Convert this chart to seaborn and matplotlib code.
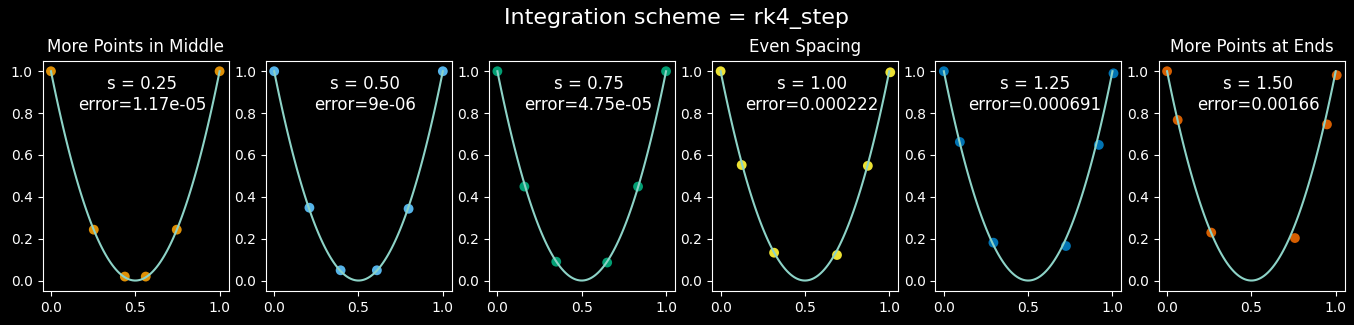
import matplotlib
matplotlib.use("Agg")
import matplotlib.pyplot as plt
import seaborn as sns
import pandas as pd

plt.style.use("dark_background")

# Exact curve knots (y = (2x-1)^2)
curve_x = [0.0, 0.1, 0.2, 0.3, 0.4, 0.5, 0.6, 0.7, 0.8, 0.9, 1.0]
curve_y = [1.0, 0.64, 0.36, 0.16, 0.04, 0.0, 0.04, 0.16, 0.36, 0.64, 1.0]

s_values = [0.25, 0.50, 0.75, 1.00, 1.25, 1.50]
errors = ["1.17e-05", "9e-06", "4.75e-05", "0.000222", "0.000691", "0.00166"]
titles = ["More Points in Middle", "", "", "Even Spacing", "", "More Points at Ends"]

pts_x = [
    [0.0, 0.254, 0.438, 0.562, 0.746, 1.0],
    [0.0, 0.209, 0.394, 0.609, 0.797, 1.0],
    [0.0, 0.160, 0.349, 0.651, 0.834, 1.0],
    [0.0, 0.125, 0.317, 0.690, 0.873, 1.006],
    [0.0, 0.095, 0.294, 0.724, 0.919, 1.006],
    [0.0, 0.063, 0.262, 0.758, 0.948, 1.006],
]
pts_y = [
    [1.0, 0.243, 0.019, 0.019, 0.243, 1.0],
    [1.0, 0.348, 0.049, 0.049, 0.343, 1.0],
    [1.0, 0.449, 0.090, 0.086, 0.449, 1.0],
    [1.0, 0.552, 0.133, 0.122, 0.548, 0.995],
    [1.0, 0.662, 0.181, 0.165, 0.648, 0.990],
    [1.0, 0.767, 0.229, 0.203, 0.746, 0.981],
]
point_colors = ["#DE8F05", "#56B4E9", "#029E73", "#ECE133", "#0173B2", "#D55E00"]
curve_color = "#8dd3c7"

fig, axes = plt.subplots(1, 6, figsize=(13.54, 3.25), dpi=100)
fig.subplots_adjust(left=0.0314, right=0.9931, top=0.813, bottom=0.1046, wspace=0.2)

curve_df = pd.DataFrame({"x": curve_x, "y": curve_y})

for i, ax in enumerate(axes):
    df = pd.DataFrame({"x": pts_x[i], "y": pts_y[i]})
    sns.scatterplot(data=df, x="x", y="y", ax=ax, color=point_colors[i],
                    s=50, edgecolor="none", zorder=1)
    sns.regplot(data=curve_df, x="x", y="y", ax=ax, order=2, ci=None,
                scatter=False, line_kws={"color": curve_color, "lw": 1.5, "zorder": 2})
    ax.set_xlabel("")
    ax.set_ylabel("")
    ax.set_xticks([0.0, 0.5, 1.0])
    ax.set_yticks([0.0, 0.2, 0.4, 0.6, 0.8, 1.0])
    ax.set_xlim(-0.05, 1.053)
    ax.set_ylim(-0.05, 1.05)
    ax.grid(False)
    if titles[i]:
        ax.set_title(titles[i], fontsize=12)
    ax.text(0.54, 0.89, f"s = {s_values[i]:.2f}\nerror={errors[i]}",
            ha="center", va="center", fontsize=12, color="white")

fig.suptitle("Integration scheme = rk4_step", fontsize=16, y=0.975)
fig.savefig("out.png", dpi=100)
